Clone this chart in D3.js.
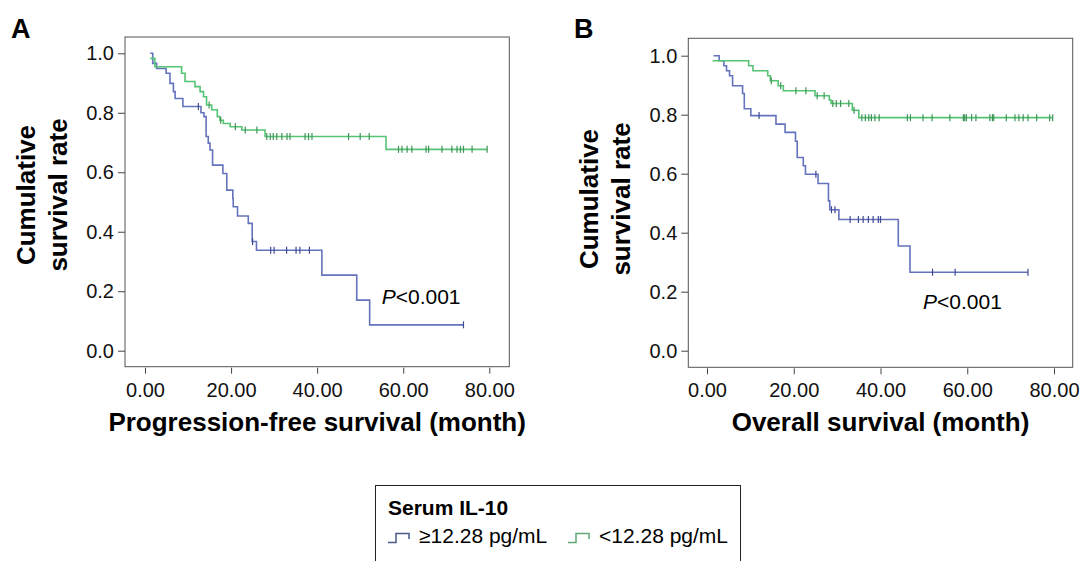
<!DOCTYPE html>
<html>
<head>
<meta charset="utf-8">
<script src="https://cdn.jsdelivr.net/npm/d3@7/dist/d3.min.js"></script>
<style>
  body { margin: 0; background: #fff; }
  svg text { font-family: Arial, "Liberation Sans", sans-serif; }
</style>
</head>
<body>
<svg id="chart" width="1083" height="561"></svg>
<script>
// tick labels
var xTicks = [0, 20, 40, 60, 80];
var yTicks = [0, 0.2, 0.4, 0.6, 0.8, 1.0];

// A: progression-free survival, IL-10 >= 12.28 (event times / survival after event)
var pfsHighTimes = [1.2, 1.8, 2.7, 4.9, 5.8, 6.6, 7.0, 8.8, 13.0, 13.7, 14.2, 14.7, 15.1, 15.7, 18.1, 19.0, 20.4, 20.5, 21.5, 24.0, 24.9, 25.9, 41.1, 49.2, 52.2];
var pfsHighSurv  = [1.0, 0.966, 0.949, 0.933, 0.899, 0.871, 0.848, 0.821, 0.80, 0.787, 0.72, 0.698, 0.675, 0.624, 0.596, 0.54, 0.512, 0.484, 0.453, 0.428, 0.367, 0.338, 0.254, 0.170, 0.087];
var pfsHighCensor = [12.4, 25.0, 29.2, 30.0, 32.9, 35.1, 36.0, 38.2, 74.0];

// A: progression-free survival, IL-10 < 12.28
var pfsLowTimes = [1.2, 2.3, 8.5, 9.3, 11.6, 12.8, 13.6, 14.3, 15.5, 16.8, 17.4, 18.2, 19.8, 22.5, 27.9, 56.0];
var pfsLowSurv  = [0.983, 0.955, 0.933, 0.905, 0.888, 0.871, 0.854, 0.826, 0.81, 0.787, 0.775, 0.764, 0.753, 0.742, 0.72, 0.677];
var pfsLowCensor = [14.9, 17.6, 21.0, 23.3, 26.0, 28.3, 29.1, 29.8, 30.6, 31.8, 33.0, 33.7, 37.2, 38.0, 38.8, 47.3, 50.0, 52.1,
                    58.9, 59.7, 60.9, 62.0, 65.3, 65.9, 69.0, 71.3, 72.5, 73.3, 74.0, 76.0, 79.5];

// B: overall survival, IL-10 >= 12.28
var osHighTimes = [1.5, 2.8, 3.9, 4.5, 5.2, 5.9, 8.2, 8.6, 10.1, 15.9, 18.0, 20.4, 20.8, 22.2, 22.7, 25.6, 28.0, 28.3, 30.4, 44.1, 46.8];
var osHighSurv  = [1.0, 0.983, 0.966, 0.949, 0.932, 0.898, 0.872, 0.82, 0.797, 0.768, 0.74, 0.71, 0.655, 0.627, 0.598, 0.567, 0.508, 0.478, 0.445, 0.355, 0.266];
var osHighCensor = [12.0, 25.1, 28.7, 29.5, 33.0, 34.9, 36.0, 37.2, 38.3, 39.5, 40.0, 52.0, 57.2, 74.0];

// B: overall survival, IL-10 < 12.28
var osLowTimes = [1.3, 9.6, 10.6, 14.0, 14.6, 16.4, 17.6, 24.9, 28.2, 28.6, 33.5, 35.0];
var osLowSurv  = [0.983, 0.966, 0.949, 0.932, 0.915, 0.898, 0.881, 0.864, 0.85, 0.838, 0.815, 0.79];
var osLowCensor = [14.8, 17.0, 20.5, 22.8, 25.4, 27.0, 29.0, 29.8, 30.8, 32.7, 33.9, 35.7, 36.5, 37.3, 37.9, 38.7, 39.7,
                   46.2, 46.9, 49.8, 51.9, 56.0, 59.1, 59.4, 59.8, 61.0, 62.0, 65.2, 65.8, 66.1, 69.0, 71.0, 71.9,
                   72.9, 74.0, 76.0, 79.0, 79.7];

var groupNames = ["\u226512.28 pg/mL", "<12.28 pg/mL"];
var lineColors = ["#6573bd", "#55c474"];
var markColors = ["#3e4a94", "#3f9457"];

var svg = d3.select("#chart");

var panels = [
  { label: "A", lx: 11, left: 125, top: 37, right: 509.3, bottom: 366.7, x0: 145, x80: 489.3, y0: 350.7, y1: 53.3,
    yTitleY: 195, xTitle: "Progression-free survival (month)", px: 381.7, py: 304,
    curves: [[pfsHighTimes, pfsHighSurv, pfsHighCensor], [pfsLowTimes, pfsLowSurv, pfsLowCensor]] },
  { label: "B", lx: 574, left: 688.3, top: 38.3, right: 1072.7, bottom: 367.3, x0: 707, x80: 1054, y0: 350.7, y1: 55.7,
    yTitleY: 199, xTitle: "Overall survival (month)", px: 923, py: 309,
    curves: [[osHighTimes, osHighSurv, osHighCensor], [osLowTimes, osLowSurv, osLowCensor]] }
];

function survAt(times, surv, t)
{
   var i = d3.bisectRight(times, t) - 1;
   return surv[Math.max(i, 0)];
}

function drawPanel(p)
{
   var g = svg.append("g");
   var x = d3.scaleLinear().domain([0, 80]).range([p.x0, p.x80]);
   var y = d3.scaleLinear().domain([0, 1]).range([p.y0, p.y1]);

   g.append("text")
    .attr("x", p.lx).attr("y", 38)
    .attr("font-size", 27).attr("font-weight", "bold")
    .text(p.label);

   g.append("rect")
    .attr("x", p.left).attr("y", p.top)
    .attr("width", p.right - p.left).attr("height", p.bottom - p.top)
    .attr("fill", "none").attr("stroke", "#555").attr("stroke-width", 1);

   var ya = g.append("g")
             .attr("transform", "translate(" + p.left + ",0)")
             .call(d3.axisLeft(y).tickValues(yTicks).tickFormat(d3.format(".1f")).tickSize(7).tickPadding(4));
   var xa = g.append("g")
             .attr("transform", "translate(0," + (p.bottom + 1) + ")")
             .call(d3.axisBottom(x).tickValues(xTicks).tickFormat(d3.format(".2f")).tickSize(6).tickPadding(9));
   [ya, xa].forEach(function (a) {
      a.select(".domain").remove();
      a.selectAll("line").attr("stroke", "#444");
      a.selectAll("text").attr("font-size", 20).attr("fill", "#111")
       .style("font-family", "Arial, 'Liberation Sans', sans-serif");
   });

   var yt = g.append("text")
             .attr("transform", "translate(0," + p.yTitleY + ") rotate(-90)")
             .attr("text-anchor", "middle")
             .attr("font-size", 26).attr("font-weight", "bold");
   yt.append("tspan").attr("x", 0).attr("y", p.left - 90).text("Cumulative");
   yt.append("tspan").attr("x", 0).attr("y", p.left - 58).text("survival rate");

   g.append("text")
    .attr("x", (p.left + p.right) / 2).attr("y", 431)
    .attr("text-anchor", "middle")
    .attr("font-size", 26).attr("font-weight", "bold")
    .text(p.xTitle);

   var line = d3.line()
                .x(function (d) { return x(d[0]); })
                .y(function (d) { return y(d[1]); })
                .curve(d3.curveStepAfter);

   p.curves.forEach(function (c, k) {
      var times = c[0], surv = c[1], cens = c[2];
      var pts = times.map(function (t, i) { return [t, surv[i]]; });
      var lastT = d3.max(cens.concat(times));
      pts.push([lastT, surv[surv.length - 1]]);
      g.append("path")
       .attr("d", line(pts))
       .attr("fill", "none")
       .attr("stroke", lineColors[k])
       .attr("stroke-width", 1.6);
      g.selectAll(".cens" + k)
       .data(cens)
       .enter()
       .append("line")
       .attr("x1", function (d) { return x(d); })
       .attr("x2", function (d) { return x(d); })
       .attr("y1", function (d) { return y(survAt(times, surv, d)) - 3.5; })
       .attr("y2", function (d) { return y(survAt(times, surv, d)) + 3.5; })
       .attr("stroke", markColors[k])
       .attr("stroke-width", 1.2);
   });

   var pt = g.append("text")
             .attr("x", p.px).attr("y", p.py)
             .attr("font-size", 21);
   pt.append("tspan").attr("font-style", "italic").text("P");
   pt.append("tspan").text("<0.001");
}

panels.forEach(drawPanel);

// legend
var leg = svg.append("g");
leg.append("rect")
   .attr("x", 375.5).attr("y", 485.5).attr("width", 365).attr("height", 100)
   .attr("fill", "none").attr("stroke", "#222").attr("stroke-width", 1);
leg.append("text")
   .attr("x", 388).attr("y", 515)
   .attr("font-size", 21).attr("font-weight", "bold")
   .text("Serum IL-10");

var legX = [388, 568];
var legSym = ["#4b5888", "#5fa874"];
groupNames.forEach(function (name, k) {
   var sx = legX[k];
   leg.append("path")
      .attr("d", "M" + sx + ",542.5 H" + (sx + 8) + " V533.5 H" + (sx + 21) + " V539")
      .attr("fill", "none").attr("stroke", legSym[k]).attr("stroke-width", 1.5);
   leg.append("text")
      .attr("x", sx + 31).attr("y", 543)
      .attr("font-size", 21)
      .text(name);
});
</script>
</body>
</html>
